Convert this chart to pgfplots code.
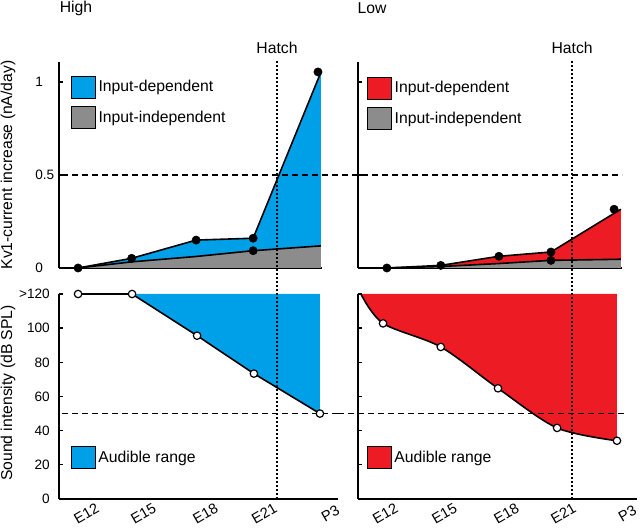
\documentclass[border=0pt]{standalone}
\usepackage{fontspec}
\setmainfont{Liberation Sans}
\usepackage{pgfplots}
\pgfplotsset{compat=1.18}
\definecolor{hblue}{RGB}{0,160,233}
\definecolor{hred}{RGB}{237,28,36}
\definecolor{hgray}{RGB}{140,140,140}
\tikzset{
  refdash/.style={line width=1pt, dash pattern=on 4.5pt off 3pt},
  hatchline/.style={line width=1.2pt, dash pattern=on 1.5pt off 1.5pt},
}
\pgfplotsset{
  base/.style={scale only axis, axis lines*=left, clip=false,
    axis line style={line width=2.2pt, black},
    tick align=inside, major tick length=3pt, tick style={line width=1pt, black},
    font=\fontsize{11.8}{14}\selectfont,
    tick label style={font=\fontsize{10.2}{12}\selectfont},
    legend cell align=left,
    legend style={draw=none, fill=none, anchor=north west, inner sep=0pt, row sep=6pt,
      font=\fontsize{11.8}{14}\selectfont},
    legend image code/.code={\draw[##1, draw=black, line width=0.6pt] (0pt,-8.25pt) rectangle (18pt,8.25pt);}},
  toprow/.style={base, height=154.5pt, ymin=0, ymax=1.1075, xtick=\empty, ytick={0,0.5,1}},
  botrow/.style={base, height=153.75pt, ymin=0, ymax=120, ytick={0,20,40,60,80,100,120},
    xtick style={draw=none}, xticklabels={E12,E15,E18,E21,P3},
    xticklabel style={rotate=30, anchor=center, inner sep=0pt, yshift=-12.5pt, font=\fontsize{11}{13}\selectfont}},
  dl/.style={black, line width=1.2pt, forget plot},
}
\begin{document}
\begin{tikzpicture}
\path[use as bounding box] (0,0) rectangle (480pt,398.25pt);
% ---------- top left ----------
\begin{axis}[toprow, at={(44.25pt,197.25pt)}, width=197.25pt, xmin=11.05, xmax=24.15,
  yticklabels={0,0.5,1}, yticklabel style={anchor=west, inner sep=0pt, xshift=-18pt},
  ylabel={Kv1-current increase (nA/day)}, ylabel style={at={(axis description cs:-0.194,0.5)}, anchor=center},
  legend style={at={(axis description cs:0.045,0.935)}}]
\addplot[fill=hblue, draw=none] coordinates {(12,0)(14.67,0.052)(17.88,0.15)(20.72,0.16)(24.1,1.054)} \closedcycle;
\addlegendentry{Input-dependent}
\addplot[fill=hgray, draw=none] coordinates {(12,0)(14.67,0.033)(17.88,0.062)(20.72,0.093)(24.1,0.119)} \closedcycle;
\addlegendentry{Input-independent}
\addplot[dl] coordinates {(12,0)(14.67,0.052)(17.88,0.15)(20.72,0.16)(24.1,1.054)};
\addplot[dl] coordinates {(12,0)(14.67,0.033)(17.88,0.062)(20.72,0.093)(24.1,0.119)};
\addplot[only marks, mark=*, mark size=3.1pt, black, forget plot] coordinates {(12,0)(14.67,0.052)(17.88,0.15)(20.72,0.16)(20.72,0.093)(23.95,1.054)};
\draw[refdash] (axis cs:11.2,0.5) -- (axis cs:24.15,0.5);
\node at (axis cs:21.91,1.183) {Hatch};
\node at (axis cs:11.9,1.398) {High};
\end{axis}
% ---------- top right ----------
\begin{axis}[toprow, at={(268.5pt,197.25pt)}, width=198pt, xmin=10.6, xmax=24.31,
  yticklabels={,,},
  legend style={at={(axis description cs:0.034,0.93)}}]
\addplot[fill=hred, draw=none] coordinates {(12.1,0)(14.9,0.014)(17.92,0.063)(20.62,0.086)(24.25,0.316)} \closedcycle;
\addlegendentry{Input-dependent}
\addplot[fill=hgray, draw=none] coordinates {(12.1,0)(14.9,0.008)(17.92,0.024)(20.62,0.041)(24.25,0.047)} \closedcycle;
\addlegendentry{Input-independent}
\addplot[dl] coordinates {(12.1,0)(14.9,0.014)(17.92,0.063)(20.62,0.086)(24.25,0.316)};
\addplot[dl] coordinates {(12.1,0)(14.9,0.008)(17.92,0.024)(20.62,0.041)(24.25,0.047)};
\addplot[only marks, mark=*, mark size=3.1pt, black, forget plot] coordinates {(12.1,0)(14.9,0.014)(17.92,0.063)(20.62,0.086)(20.62,0.041)(23.9,0.316)};
\draw[refdash] (axis cs:8.73,0.5) -- (axis cs:24.31,0.5);
\node at (axis cs:21.72,1.183) {Hatch};
\node at (axis cs:11.33,1.398) {Low};
\end{axis}
% ---------- bottom left ----------
\begin{axis}[botrow, at={(44.25pt,24pt)}, width=209.25pt, xmin=11.05, xmax=24.95,
  xtick={12,14.84,17.93,20.86,24.15},
  yticklabels={0,20,40,60,80,100,{>120}}, yticklabel style={anchor=east, inner sep=0pt, xshift=-6.75pt},
  ylabel={Sound intensity (dB SPL)}, ylabel style={at={(axis description cs:-0.183,0.517)}, anchor=center},
  legend style={at={(axis description cs:0.042,0.258)}}]
\addplot[fill=hblue, draw=none] coordinates {(14.69,120)(17.93,95.6)(20.76,73.4)(24.05,50)(24.05,120)} -- cycle;
\addlegendentry{Audible range}
\addplot[dl, mark=*, mark size=2.8pt, mark options={fill=white, draw=black, line width=0.9pt}] coordinates {(12,120)(14.69,120)(17.93,95.6)(20.76,73.4)(24.05,50)};
\draw[refdash] (axis cs:11.2,50) -- (axis cs:24.95,50);
\draw[hatchline] (axis cs:21.91,0) -- (axis cs:21.91,257);
\end{axis}
% ---------- bottom right ----------
\begin{axis}[botrow, at={(268.5pt,24pt)}, width=209.25pt, xmin=10.6, xmax=25.09,
  xtick={11.58,14.65,17.87,20.83,24.16},
  yticklabels={,,,,,,},
  legend style={at={(axis description cs:0.031,0.258)}}]
\addplot[fill=hred, draw=none, smooth, tension=0.5] coordinates {(10.75,120)(11.9,102.8)(14.9,89)(17.87,64.8)(20.94,41.6)(24.05,34.1)} -- (axis cs:24.05,120) -- cycle;
\addlegendentry{Audible range}
\addplot[dl, smooth, tension=0.5] coordinates {(10.75,120)(11.9,102.8)(14.9,89)(17.87,64.8)(20.94,41.6)(24.05,34.1)};
\addplot[only marks, mark=*, mark size=2.8pt, mark options={fill=white, draw=black, line width=0.9pt}, forget plot] coordinates {(11.9,102.8)(14.9,89)(17.87,64.8)(20.94,41.6)(24.05,34.1)};
\draw[refdash] (axis cs:9.56,50) -- (axis cs:24.47,50);
\draw[hatchline] (axis cs:21.72,0) -- (axis cs:21.72,257);
\end{axis}
\end{tikzpicture}
\end{document}
